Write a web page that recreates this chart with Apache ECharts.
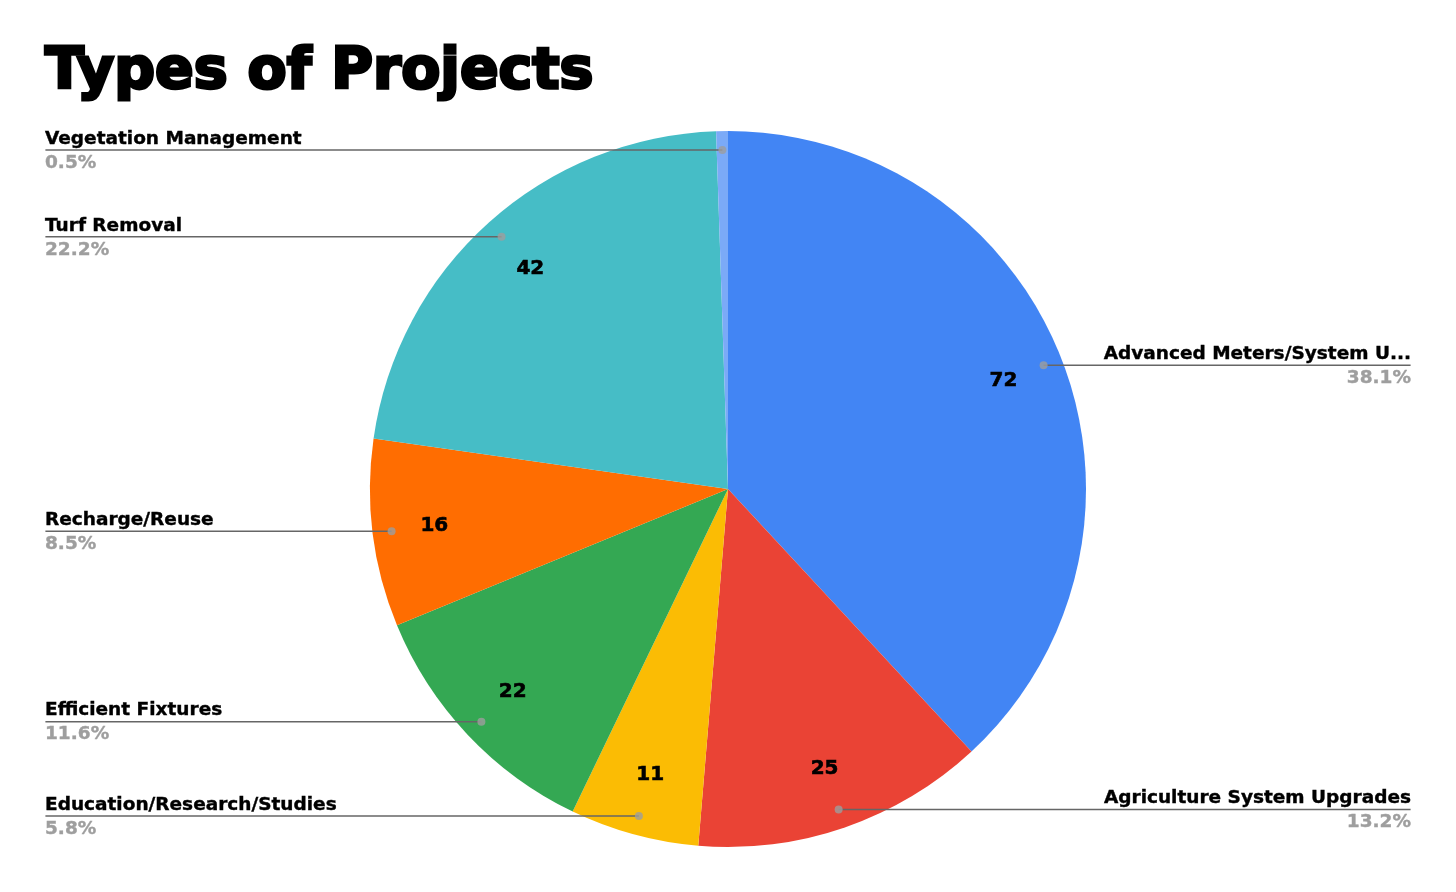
<!DOCTYPE html>
<html><head><meta charset="utf-8">
<script src="https://cdn.jsdelivr.net/npm/echarts@6/dist/echarts.min.js"></script>
<style>html,body{margin:0;padding:0;background:#fff}#c{width:1456px;height:892px}</style>
</head><body><div id="c"></div>
<script>
const titleText = 'Types of Projects';
const categories = ['Advanced Meters/System Upgrades', 'Agriculture System Upgrades', 'Education/Research/Studies', 'Efficient Fixtures', 'Recharge/Reuse', 'Turf Removal', 'Vegetation Management'];
const values = [72, 25, 11, 22, 16, 42, 1];
const colors = ['#4285F4', '#EA4335', '#FBBC04', '#34A853', '#FF6D01', '#46BDC6', '#7BAAF7'];

const total = values.reduce((a, b) => a + b, 0);
const CX = 728, CY = 489, R = 358;
const FONT = 'DejaVu Sans';
const LABEL_SIZE = 18.5;
const pct = v => (v / total * 100).toFixed(1) + '%';
const shortName = n => n.length > 28 ? n.slice(0, 24) + '...' : n;

// measure label text so the leader line can run under the text to the edge
const mctx = document.createElement('canvas').getContext('2d');
mctx.font = 'bold ' + LABEL_SIZE + 'px "' + FONT + '"';
const textW = (i) => Math.max(mctx.measureText(shortName(categories[i])).width, mctx.measureText(pct(values[i])).width);

const solidData = categories.map((n, i) => ({ name: n, value: values[i], itemStyle: { color: colors[i] } }));
const clearData = categories.map((n, i) => ({ name: n, value: values[i], itemStyle: { color: 'rgba(0,0,0,0)' } }));
const outerData = categories.map((n, i) => ({
  name: n, value: values[i], itemStyle: { color: 'rgba(0,0,0,0)' },
  label: { distanceToLabelLine: -textW(i) }
}));
let cum = 0;
const dotData = values.map(v => { const mid = cum + v / 2; cum += v; return [0.947, mid]; });

const chart = echarts.init(document.getElementById('c'), null, { renderer: 'canvas' });
chart.setOption({
  backgroundColor: '#ffffff',
  animation: false,
  title: {
    text: titleText, left: 45, top: 45, padding: 0,
    textStyle: { fontFamily: FONT, fontWeight: 'bold', fontSize: 57, color: '#000', textBorderColor: '#000', textBorderWidth: 3 }
  },
  polar: { center: [CX, CY], radius: R },
  angleAxis: { type: 'value', min: 0, max: total, startAngle: 90, clockwise: true, show: false },
  radiusAxis: { type: 'value', min: 0, max: 1, show: false },
  series: [
    {
      type: 'pie', center: [CX, CY], radius: [0, R], startAngle: 90, silent: true, z: 1,
      label: { show: false }, labelLine: { show: false },
      itemStyle: { borderWidth: 0 },
      data: solidData
    },
    {
      type: 'pie', center: [CX, CY], radius: [247, 339], startAngle: 90, silent: true, z: 3,
      label: {
        show: true, position: 'inside',
        formatter: p => (p.value / total < 0.02 ? '' : String(p.value)),
        fontFamily: FONT, fontWeight: 'bold', fontSize: 20, color: '#000',
        textBorderColor: '#000', textBorderWidth: 0.6
      },
      labelLine: { show: false },
      data: clearData
    },
    {
      type: 'pie', center: [CX, CY], radius: [247, 339], startAngle: 90, silent: true, z: 4,
      avoidLabelOverlap: true,
      label: {
        show: true, position: 'outside', alignTo: 'edge', edgeDistance: 45,
        formatter: p => '{n|' + shortName(p.name) + '}\n{p|' + pct(p.value) + '}',
        rich: {
          n: { fontFamily: FONT, fontWeight: 'bold', fontSize: LABEL_SIZE, color: '#000', lineHeight: 26, textBorderColor: '#000', textBorderWidth: 0.4 },
          p: { fontFamily: FONT, fontWeight: 'bold', fontSize: LABEL_SIZE, color: '#9e9e9e', lineHeight: 22, textBorderColor: '#9e9e9e', textBorderWidth: 0.4 }
        }
      },
      labelLine: { show: true, length: 0, length2: 10, smooth: false, lineStyle: { color: '#666666', width: 1.5 } },
      data: outerData
    },
    {
      type: 'scatter', coordinateSystem: 'polar', silent: true, z: 10,
      symbol: 'circle', symbolSize: 8,
      itemStyle: { color: '#9e9e9e' },
      data: dotData
    }
  ]
});
</script>
</body></html>
